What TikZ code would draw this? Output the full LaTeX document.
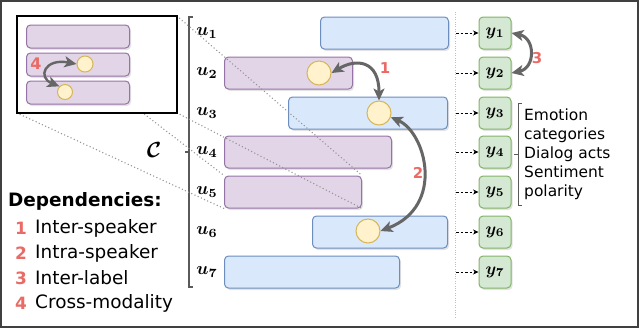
\documentclass[tikz,border=0pt]{standalone}
\usepackage{fontspec}
\setmainfont{DejaVu Sans}
\usetikzlibrary{arrows.meta,shadows}
\definecolor{blueF}{HTML}{DAE8FC}
\definecolor{blueD}{HTML}{6C8EBF}
\definecolor{purF}{HTML}{E1D5E7}
\definecolor{purD}{HTML}{9673A6}
\definecolor{grnF}{HTML}{D5E8D4}
\definecolor{grnD}{HTML}{82B366}
\definecolor{ylwF}{HTML}{FFF2CC}
\definecolor{ylwD}{HTML}{D6B656}
\definecolor{depred}{HTML}{EA6B66}
\definecolor{arrgray}{HTML}{666666}
\definecolor{brk}{HTML}{5A5A5A}
\begin{document}
\begin{tikzpicture}[x=1bp,y=-1bp,
  bar/.style={rounded corners=4bp,line width=1bp,minimum height=32bp,inner sep=0pt,anchor=west,
    drop shadow={opacity=.22,shadow xshift=1.5bp,shadow yshift=-2bp}},
  bluebar/.style={bar,draw=blueD,fill=blueF},
  purbar/.style={bar,draw=purD,fill=purF},
  ybox/.style={rounded corners=4bp,line width=1bp,draw=grnD,fill=grnF,minimum size=32bp,inner sep=0pt,
    drop shadow={opacity=.22,shadow xshift=1.5bp,shadow yshift=-2bp}},
  spot/.style={circle,draw=ylwD,fill=ylwF,line width=1bp,minimum size=24bp,inner sep=0pt},
  ulabel/.style={scale=1.8,inner sep=0pt,font=\boldmath},
  dep/.style={draw=arrgray,line width=3bp,{Stealth[length=12bp,width=11bp,inset=3bp]}-{Stealth[length=12bp,width=11bp,inset=3bp]}},
  depnum/.style={text=depred,font=\fontsize{15}{18}\selectfont\bfseries,inner sep=0pt},
  feed/.style={draw=black,line width=.8bp,dash pattern=on 2.5bp off 2bp,-{Stealth[length=5.5bp,width=5bp]}},
  zoomline/.style={draw=gray!85,line width=1.5bp,dash pattern=on 0pt off 3.5bp,line cap=round},
  legtext/.style={anchor=west,inner sep=0pt,font=\fontsize{18.5}{22}\selectfont},
  legnum/.style={text=depred,font=\fontsize{17}{20}\selectfont\bfseries,inner sep=0pt}]
\useasboundingbox (0,0) rectangle (640,329);
\draw[color=black!75,line width=1.5bp] (1,1) rectangle (638,327);
% utterances
\node[bluebar,minimum width=128bp] (u1) at (320,33) {};
\node[purbar,minimum width=128bp] (u2) at (224,73) {};
\node[bluebar,minimum width=159bp] (u3) at (288,113) {};
\node[purbar,minimum width=167bp] (u4) at (224,152) {};
\node[purbar,minimum width=137bp] (u5) at (224,192) {};
\node[bluebar,minimum width=135bp] (u6) at (312,232) {};
\node[bluebar,minimum width=175bp] (u7) at (224,272) {};
% labels and outputs
\coordinate (septop) at (455,12);
\coordinate (sepbot) at (455,318);
\draw[gray!50,line width=.8bp,dash pattern=on .8bp off 1.6bp] (septop) -- (sepbot);
\foreach \i/\y in {1/33,2/73,3/113,4/152,5/192,6/232,7/272}{
  \node[ulabel] (lu\i) at (207,\y) {$u_{\i}$};
  \node[ybox] (y\i) at (495,\y) {};
  \node[ulabel,scale=.95] (ly\i) at (y\i) {$y_{\i}$};
  \coordinate (s\i) at (456,\y);
  \draw[feed] (s\i) -- (y\i);
}
% context bracket
\draw[brk,line width=1.2bp] (193,17) -- (189,17) -- (189,287) -- (193,287);
\draw[brk,line width=1.2bp] (185,152) -- (189,152);
\node[scale=2.2,font=\boldmath] (C) at (154,150) {$\mathcal{C}$};
% zoom
\coordinate (inNW) at (17,16);
\coordinate (inSE) at (177,113);
\draw[zoomline] (inNW) -- (u5.north west);
\draw[zoomline] (inNW -| inSE) -- (u5.north east);
\draw[zoomline] (inNW |- inSE) -- (u5.south west);
\draw[zoomline] (inSE) -- (u5.south east);
\draw[fill=white,line width=1.5bp] (inNW) rectangle (inSE);
\node[purbar,minimum width=103bp,minimum height=23bp] (i1) at (26,36.5) {};
\node[purbar,minimum width=103bp,minimum height=23bp] (i2) at (26,64.5) {};
\node[purbar,minimum width=103bp,minimum height=23bp] (i3) at (26,92.5) {};
\node[spot,minimum size=16bp] (ia) at (85,64) {};
\node[spot,minimum size=15bp] (ib) at (65,92) {};
\draw[dep,line width=2.4bp] (ib.135) .. controls +(-22,-9) and +(-32,-6) .. (ia.west);
\node[depnum,font=\fontsize{16}{18}\selectfont\bfseries] (d4) at (36,64) {4};
% dependencies
\node[spot] (c2) at (319,73) {};
\node[spot] (c3) at (379,113) {};
\node[spot] (c6) at (368,231) {};
\draw[dep] (c2.east) .. controls +(25,-15) and +(0,-40) .. (c3.north);
\draw[dep] (c3.-20) .. controls +(35,15) and +(65,-25) .. (c6.east);
\draw[dep] (y1.east) .. controls +(24,5) and +(24,-5) .. (y2.east);
\node[depnum] (d1) at (385,68) {1};
\node[depnum] (d2) at (418,173) {2};
\node[depnum] (d3) at (537,58) {3};
% label types
\draw[brk,line width=1bp] (522,103) -- (518,103) -- (518,205) -- (522,205);
\draw[brk,line width=1bp] (514,154) -- (518,154);
\node[anchor=west,align=left,inner sep=0pt,font=\fontsize{15.5}{19}\selectfont] (cats) at (524,154)
  {Emotion\\categories\\Dialog acts\\Sentiment\\polarity};
% legend
\node[anchor=west,inner sep=0pt,font=\fontsize{18.5}{22}\selectfont\bfseries] (deps) at (8,201) {Dependencies:};
\foreach \i/\t/\y in {1/Inter-speaker/228,2/Intra-speaker/253,3/Inter-label/278,4/Cross-modality/303}{
  \node[legnum] (n\i) at (21,\y) {\i};
  \node[legtext] (t\i) at (35,\y) {\t};
}
\end{tikzpicture}
\end{document}
